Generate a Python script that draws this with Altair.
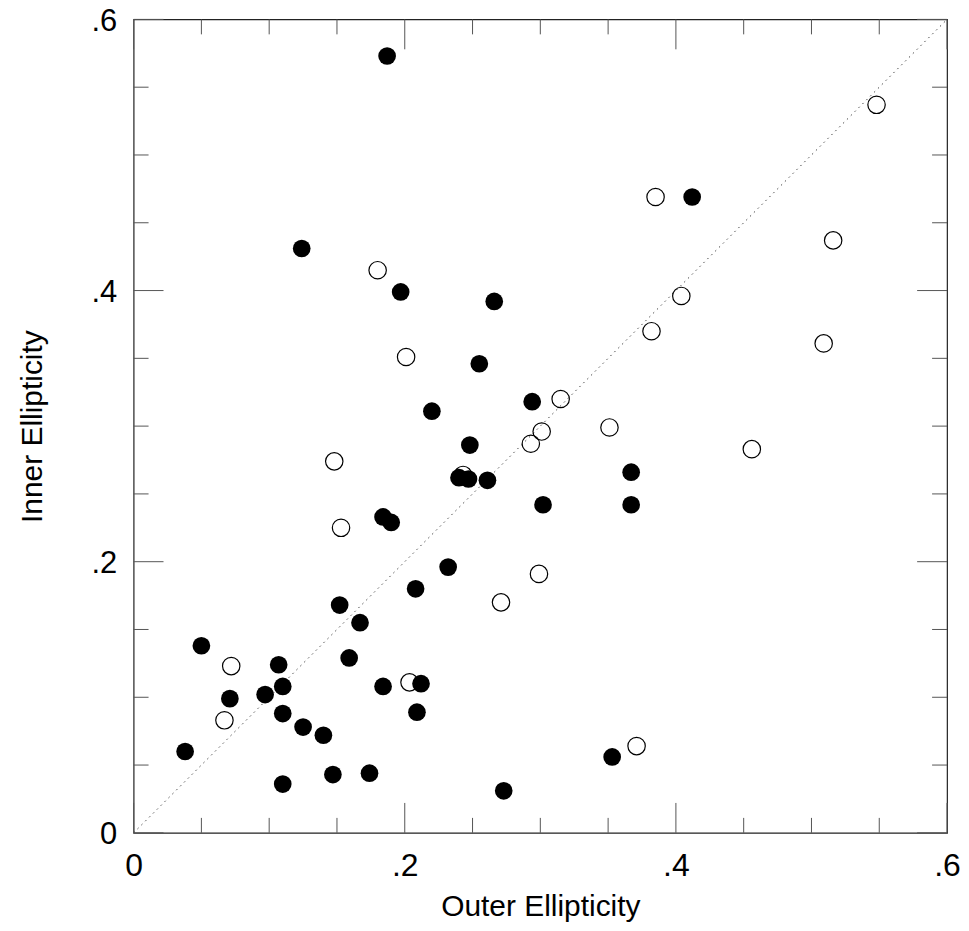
import altair as alt
import pandas as pd

# ---- data ----
filled_x = [0.187, 0.124, 0.197, 0.266, 0.255, 0.220, 0.294, 0.248, 0.240, 0.247,
            0.261, 0.302, 0.367, 0.367, 0.184, 0.190, 0.232, 0.208, 0.152, 0.167,
            0.159, 0.050, 0.107, 0.110, 0.097, 0.071, 0.110, 0.125, 0.140, 0.184,
            0.212, 0.209, 0.038, 0.110, 0.147, 0.174, 0.273, 0.353, 0.412]
filled_y = [0.573, 0.431, 0.399, 0.392, 0.346, 0.311, 0.318, 0.286, 0.262, 0.261,
            0.260, 0.242, 0.266, 0.242, 0.233, 0.229, 0.196, 0.180, 0.168, 0.155,
            0.129, 0.138, 0.124, 0.108, 0.102, 0.099, 0.088, 0.078, 0.072, 0.108,
            0.110, 0.089, 0.060, 0.036, 0.043, 0.044, 0.031, 0.056, 0.469]

open_x = [0.548, 0.385, 0.516, 0.404, 0.180, 0.382, 0.509, 0.201, 0.315, 0.301,
          0.293, 0.351, 0.148, 0.456, 0.153, 0.299, 0.271, 0.072, 0.067, 0.2035,
          0.371, 0.243]
open_y = [0.537, 0.469, 0.437, 0.396, 0.415, 0.370, 0.361, 0.351, 0.320, 0.296,
          0.287, 0.299, 0.274, 0.283, 0.225, 0.191, 0.170, 0.123, 0.083, 0.111,
          0.064, 0.264]

diag_x = [0.0, 0.6]
diag_y = [0.0, 0.6]

label_values = [0, 0.2, 0.4, 0.6]
tick_labels = ["0", ".2", ".4", ".6"]
major_ticks = [0, 0.2, 0.4, 0.6]
minor_ticks = [0.05, 0.1, 0.15, 0.25, 0.3, 0.35, 0.45, 0.5, 0.55]

x_title = "Outer Ellipticity"
y_title = "Inner Ellipticity"

# ---- styling ----
W = H = 816
FONT = "Liberation Sans"
MAJOR_LEN = 30
MINOR_LEN = 15
TICK_COLOR = "#555555"

label_expr = "".join(f"datum.value == {v} ? '{t}' : " for v, t in zip(label_values, tick_labels)) + "''"

xscale = alt.Scale(domain=[0, 0.6], nice=False, zero=False)
yscale = alt.Scale(domain=[0, 0.6], nice=False, zero=False)

x_axis = alt.Axis(
    values=label_values, labelExpr=label_expr, ticks=False, tickSize=0,
    domain=False, grid=False, labelFont=FONT, labelFontSize=32,
    labelColor="black", labelPadding=43, labelBaseline="alphabetic",
    labelFlush=False, labelOverlap=False,
    title=x_title, titleFont=FONT, titleFontSize=30, titleFontWeight="normal",
    titleColor="black", titleX=W / 2, titleY=83, titleAlign="center",
    titleBaseline="alphabetic",
)
y_axis = alt.Axis(
    values=label_values, labelExpr=label_expr, ticks=False, tickSize=0,
    domain=False, grid=False, labelFont=FONT, labelFontSize=31,
    labelColor="black", labelPadding=17, labelAlign="right",
    labelBaseline="middle", labelOffset=2, labelFlush=False, labelOverlap=False,
    title=y_title, titleFont=FONT, titleFontSize=30, titleFontWeight="normal",
    titleColor="black", titleAngle=270, titleX=-92, titleY=H / 2,
    titleAlign="center", titleBaseline="alphabetic",
)

X = lambda: alt.X("x:Q", scale=xscale, axis=x_axis)
Y = lambda: alt.Y("y:Q", scale=yscale, axis=y_axis)

diag_df = pd.DataFrame({"x": diag_x, "y": diag_y})
diag = alt.Chart(diag_df).mark_line(
    color="#444444", strokeDash=[1.5, 4], strokeWidth=1
).encode(x=X(), y=Y())

layers = [diag]
for vals, ln in ((major_ticks, MAJOR_LEN), (minor_ticks, MINOR_LEN)):
    xdf = pd.DataFrame({"x": vals})
    ydf = pd.DataFrame({"y": vals})
    rule = dict(color=TICK_COLOR, strokeWidth=1)
    layers.append(alt.Chart(xdf).mark_rule(**rule).encode(
        x=X(), y=alt.value(H), y2=alt.value(H - ln)))
    layers.append(alt.Chart(xdf).mark_rule(**rule).encode(
        x=X(), y=alt.value(0), y2=alt.value(ln)))
    layers.append(alt.Chart(ydf).mark_rule(**rule).encode(
        y=Y(), x=alt.value(0), x2=alt.value(ln)))
    layers.append(alt.Chart(ydf).mark_rule(**rule).encode(
        y=Y(), x=alt.value(W), x2=alt.value(W - ln)))

open_df = pd.DataFrame({"x": open_x, "y": open_y})
filled_df = pd.DataFrame({"x": filled_x, "y": filled_y})

open_pts = alt.Chart(open_df).mark_point(
    shape="circle", filled=False, stroke="black", strokeWidth=1.2,
    size=305, opacity=1
).encode(x=X(), y=Y())
filled_pts = alt.Chart(filled_df).mark_circle(
    color="black", size=315, opacity=1
).encode(x=X(), y=Y())

layers += [open_pts, filled_pts]

chart = alt.layer(*layers).properties(
    width=W, height=H,
    autosize=alt.AutoSizeParams(type="none"),
    padding={"left": 126, "top": 10, "right": 14, "bottom": 89},
).configure_view(stroke="#222222", strokeWidth=1.2)

chart.save("out.html", embed_options={"renderer": "svg", "actions": False})
